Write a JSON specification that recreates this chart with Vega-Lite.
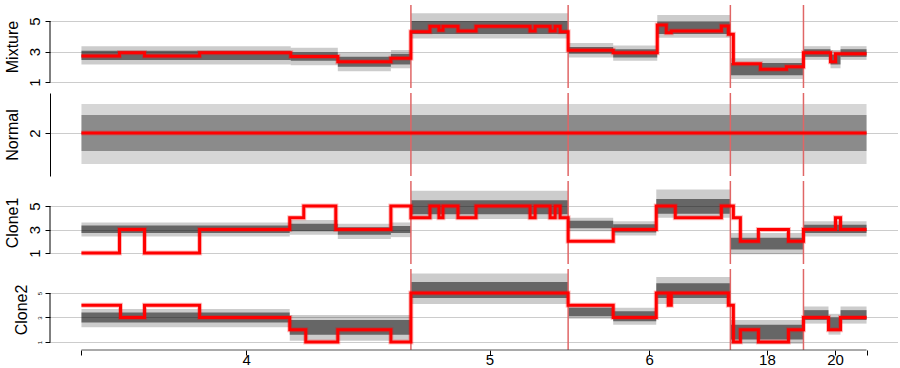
{
  "$schema": "https://vega.github.io/schema/vega-lite/v6.json",
  "background": "white",
  "padding": {"left": 4, "top": 4, "right": 0, "bottom": 0},
  "spacing": 5,
  "bounds": "flush",
  "datasets": {
    "bands": [
      {"p": "Mixture", "a": 0, "b": 209, "lo": 2.15, "hi": 3.35, "ilo": 2.45, "ihi": 3.05},
      {"p": "Mixture", "a": 209, "b": 256, "lo": 2.1, "hi": 3.25, "ilo": 2.4, "ihi": 2.95},
      {"p": "Mixture", "a": 256, "b": 309, "lo": 1.7, "hi": 2.95, "ilo": 2.0, "ihi": 2.65},
      {"p": "Mixture", "a": 309, "b": 329, "lo": 1.9, "hi": 3.1, "ilo": 2.15, "ihi": 2.85},
      {"p": "Mixture", "a": 329, "b": 486, "lo": 3.85, "hi": 5.5, "ilo": 4.15, "ihi": 5.0},
      {"p": "Mixture", "a": 486, "b": 531, "lo": 2.6, "hi": 3.55, "ilo": 2.85, "ihi": 3.3},
      {"p": "Mixture", "a": 531, "b": 575, "lo": 2.4, "hi": 3.4, "ilo": 2.6, "ihi": 3.15},
      {"p": "Mixture", "a": 575, "b": 648, "lo": 3.9, "hi": 5.4, "ilo": 4.15, "ihi": 4.95},
      {"p": "Mixture", "a": 648, "b": 721, "lo": 1.2, "hi": 2.55, "ilo": 1.45, "ihi": 2.25},
      {"p": "Mixture", "a": 721, "b": 748, "lo": 2.45, "hi": 3.35, "ilo": 2.65, "ihi": 3.15},
      {"p": "Mixture", "a": 748, "b": 758, "lo": 1.9, "hi": 3.1, "ilo": 2.15, "ihi": 2.8},
      {"p": "Mixture", "a": 758, "b": 784, "lo": 2.45, "hi": 3.35, "ilo": 2.65, "ihi": 3.15},
      {"p": "Normal", "a": 0, "b": 784, "lo": 0.97, "hi": 2.97, "ilo": 1.4, "ihi": 2.6},
      {"p": "Clone1", "a": 0, "b": 208, "lo": 2.4, "hi": 3.6, "ilo": 2.7, "ihi": 3.35},
      {"p": "Clone1", "a": 208, "b": 256, "lo": 2.55, "hi": 3.8, "ilo": 2.85, "ihi": 3.5},
      {"p": "Clone1", "a": 256, "b": 309, "lo": 2.2, "hi": 3.5, "ilo": 2.55, "ihi": 3.2},
      {"p": "Clone1", "a": 309, "b": 329, "lo": 2.35, "hi": 3.6, "ilo": 2.7, "ihi": 3.3},
      {"p": "Clone1", "a": 329, "b": 486, "lo": 3.9, "hi": 6.3, "ilo": 4.3, "ihi": 5.5},
      {"p": "Clone1", "a": 486, "b": 531, "lo": 2.85, "hi": 4.0, "ilo": 3.1, "ihi": 3.75},
      {"p": "Clone1", "a": 531, "b": 574, "lo": 2.5, "hi": 3.7, "ilo": 2.75, "ihi": 3.45},
      {"p": "Clone1", "a": 574, "b": 648, "lo": 4.0, "hi": 6.4, "ilo": 4.35, "ihi": 5.6},
      {"p": "Clone1", "a": 648, "b": 721, "lo": 0.9, "hi": 2.7, "ilo": 1.3, "ihi": 2.3},
      {"p": "Clone1", "a": 721, "b": 784, "lo": 2.4, "hi": 3.7, "ilo": 2.7, "ihi": 3.4},
      {"p": "Clone2", "a": 0, "b": 208, "lo": 2.2, "hi": 3.7, "ilo": 2.6, "ihi": 3.4},
      {"p": "Clone2", "a": 208, "b": 329, "lo": 1.1, "hi": 3.2, "ilo": 1.6, "ihi": 2.8},
      {"p": "Clone2", "a": 329, "b": 486, "lo": 4.1, "hi": 6.6, "ilo": 4.6, "ihi": 5.9},
      {"p": "Clone2", "a": 486, "b": 531, "lo": 2.9, "hi": 4.1, "ilo": 3.1, "ihi": 3.8},
      {"p": "Clone2", "a": 531, "b": 574, "lo": 2.4, "hi": 3.8, "ilo": 2.7, "ihi": 3.5},
      {"p": "Clone2", "a": 574, "b": 648, "lo": 4.1, "hi": 6.3, "ilo": 4.6, "ihi": 5.8},
      {"p": "Clone2", "a": 648, "b": 721, "lo": 0.85, "hi": 2.8, "ilo": 1.2, "ihi": 2.4},
      {"p": "Clone2", "a": 721, "b": 746, "lo": 2.5, "hi": 3.9, "ilo": 2.8, "ihi": 3.6},
      {"p": "Clone2", "a": 746, "b": 758, "lo": 1.6, "hi": 3.3, "ilo": 2.0, "ihi": 3.0},
      {"p": "Clone2", "a": 758, "b": 784, "lo": 2.5, "hi": 3.9, "ilo": 2.8, "ihi": 3.6}
    ],
    "steps": [
      {"p": "Mixture", "x": 0, "v": 2.70}, {"p": "Mixture", "x": 38, "v": 2.92}, {"p": "Mixture", "x": 63, "v": 2.70},
      {"p": "Mixture", "x": 118, "v": 2.92}, {"p": "Mixture", "x": 209, "v": 2.68}, {"p": "Mixture", "x": 256, "v": 2.33},
      {"p": "Mixture", "x": 309, "v": 2.55}, {"p": "Mixture", "x": 329, "v": 4.30}, {"p": "Mixture", "x": 348, "v": 4.65},
      {"p": "Mixture", "x": 357, "v": 4.40}, {"p": "Mixture", "x": 361, "v": 4.65}, {"p": "Mixture", "x": 376, "v": 4.35},
      {"p": "Mixture", "x": 394, "v": 4.65}, {"p": "Mixture", "x": 448, "v": 4.35}, {"p": "Mixture", "x": 453, "v": 4.65},
      {"p": "Mixture", "x": 468, "v": 4.35}, {"p": "Mixture", "x": 473, "v": 4.65}, {"p": "Mixture", "x": 478, "v": 4.30},
      {"p": "Mixture", "x": 486, "v": 3.08}, {"p": "Mixture", "x": 531, "v": 2.92}, {"p": "Mixture", "x": 575, "v": 4.74},
      {"p": "Mixture", "x": 584, "v": 4.23}, {"p": "Mixture", "x": 589, "v": 4.34}, {"p": "Mixture", "x": 639, "v": 4.67},
      {"p": "Mixture", "x": 646, "v": 4.13}, {"p": "Mixture", "x": 651, "v": 2.20}, {"p": "Mixture", "x": 678, "v": 1.83},
      {"p": "Mixture", "x": 704, "v": 2.00}, {"p": "Mixture", "x": 721, "v": 2.92}, {"p": "Mixture", "x": 748, "v": 2.33},
      {"p": "Mixture", "x": 753, "v": 2.86}, {"p": "Mixture", "x": 784, "v": 2.86},
      {"p": "Normal", "x": 0, "v": 2}, {"p": "Normal", "x": 784, "v": 2},
      {"p": "Clone1", "x": 0, "v": 1}, {"p": "Clone1", "x": 38, "v": 3}, {"p": "Clone1", "x": 63, "v": 1},
      {"p": "Clone1", "x": 118, "v": 3}, {"p": "Clone1", "x": 208, "v": 4}, {"p": "Clone1", "x": 222, "v": 5},
      {"p": "Clone1", "x": 254, "v": 3}, {"p": "Clone1", "x": 309, "v": 5}, {"p": "Clone1", "x": 329, "v": 4},
      {"p": "Clone1", "x": 348, "v": 5}, {"p": "Clone1", "x": 357, "v": 4}, {"p": "Clone1", "x": 361, "v": 5},
      {"p": "Clone1", "x": 376, "v": 4}, {"p": "Clone1", "x": 394, "v": 5}, {"p": "Clone1", "x": 448, "v": 4},
      {"p": "Clone1", "x": 453, "v": 5}, {"p": "Clone1", "x": 468, "v": 4}, {"p": "Clone1", "x": 473, "v": 5},
      {"p": "Clone1", "x": 478, "v": 4}, {"p": "Clone1", "x": 486, "v": 2}, {"p": "Clone1", "x": 531, "v": 3},
      {"p": "Clone1", "x": 574, "v": 5}, {"p": "Clone1", "x": 593, "v": 4}, {"p": "Clone1", "x": 639, "v": 5},
      {"p": "Clone1", "x": 651, "v": 4}, {"p": "Clone1", "x": 658, "v": 2}, {"p": "Clone1", "x": 676, "v": 3},
      {"p": "Clone1", "x": 706, "v": 2}, {"p": "Clone1", "x": 721, "v": 3}, {"p": "Clone1", "x": 753, "v": 4},
      {"p": "Clone1", "x": 758, "v": 3}, {"p": "Clone1", "x": 784, "v": 3},
      {"p": "Clone2", "x": 0, "v": 4}, {"p": "Clone2", "x": 39, "v": 3}, {"p": "Clone2", "x": 63, "v": 4},
      {"p": "Clone2", "x": 118, "v": 3}, {"p": "Clone2", "x": 208, "v": 2}, {"p": "Clone2", "x": 224, "v": 1},
      {"p": "Clone2", "x": 256, "v": 2}, {"p": "Clone2", "x": 309, "v": 1}, {"p": "Clone2", "x": 329, "v": 5},
      {"p": "Clone2", "x": 486, "v": 4}, {"p": "Clone2", "x": 531, "v": 3}, {"p": "Clone2", "x": 574, "v": 5},
      {"p": "Clone2", "x": 586, "v": 4}, {"p": "Clone2", "x": 589, "v": 5}, {"p": "Clone2", "x": 646, "v": 4},
      {"p": "Clone2", "x": 651, "v": 1}, {"p": "Clone2", "x": 658, "v": 2}, {"p": "Clone2", "x": 676, "v": 1},
      {"p": "Clone2", "x": 706, "v": 2}, {"p": "Clone2", "x": 721, "v": 3}, {"p": "Clone2", "x": 746, "v": 2},
      {"p": "Clone2", "x": 758, "v": 3}, {"p": "Clone2", "x": 784, "v": 3}
    ],
    "bounds": [{"b": 329}, {"b": 486}, {"b": 648}, {"b": 721}]
  },
  "config": {
    "font": "Liberation Sans",
    "view": {"stroke": null},
    "axis": {
      "labelFont": "Liberation Sans", "titleFont": "Liberation Sans",
      "labelColor": "black", "titleColor": "black", "tickColor": "black", "domainColor": "black",
      "titleFontWeight": "normal", "labelFontSize": 15, "titleFontSize": 16,
      "gridColor": "#cccccc", "gridWidth": 1.2, "tickSize": 5
    },
    "axisY": {"labelAngle": 270, "labelAlign": "center", "labelBaseline": "bottom", "labelPadding": 3, "titlePadding": 7}
  },
  "vconcat": [
    {
      "width": 848, "height": 83,
      "layer": [
        {"data": {"name": "bands"}, "transform": [{"filter": "datum.p == 'Mixture'"}],
         "mark": {"type": "rect", "color": "black", "opacity": 0.2},
         "encoding": {
           "x": {"field": "a", "type": "quantitative", "scale": {"domain": [-31.4, 815.4], "nice": false, "zero": false}, "axis": null},
           "x2": {"field": "b"},
           "y": {"field": "lo", "type": "quantitative", "scale": {"domain": [0.607, 6.049], "nice": false, "zero": false},
                 "axis": {"title": "Mixture", "values": [1, 2, 3, 4, 5], "labelExpr": "datum.value == 2 || datum.value == 4 ? '' : datum.label", "domain": false, "grid": true}},
           "y2": {"field": "hi"}}},
        {"data": {"name": "bands"}, "transform": [{"filter": "datum.p == 'Mixture'"}],
         "mark": {"type": "rect", "color": "black", "opacity": 0.5},
         "encoding": {"x": {"field": "a", "type": "quantitative"}, "x2": {"field": "b"}, "y": {"field": "ilo", "type": "quantitative"}, "y2": {"field": "ihi"}}},
        {"data": {"name": "bounds"}, "mark": {"type": "rule", "color": "#e06666", "strokeWidth": 1.5},
         "encoding": {"x": {"field": "b", "type": "quantitative"}}},
        {"data": {"name": "steps"}, "transform": [{"filter": "datum.p == 'Mixture'"}],
         "mark": {"type": "line", "interpolate": "step-after", "color": "#ff0000", "strokeWidth": 5, "opacity": 0.25},
         "encoding": {"x": {"field": "x", "type": "quantitative"}, "y": {"field": "v", "type": "quantitative"}}},
        {"data": {"name": "steps"}, "transform": [{"filter": "datum.p == 'Mixture'"}],
         "mark": {"type": "line", "interpolate": "step-after", "color": "#ff0000", "strokeWidth": 3},
         "encoding": {"x": {"field": "x", "type": "quantitative"}, "y": {"field": "v", "type": "quantitative"}}},
        {"data": {"values": [{}]}, "mark": {"type": "rule", "color": "black"},
         "encoding": {"x": {"datum": -31.4}, "y": {"datum": 1}, "y2": {"datum": 5}}}
      ]
    },
    {
      "width": 848, "height": 83,
      "layer": [
        {"data": {"name": "bands"}, "transform": [{"filter": "datum.p == 'Normal'"}],
         "mark": {"type": "rect", "color": "black", "opacity": 0.16},
         "encoding": {
           "x": {"field": "a", "type": "quantitative", "scale": {"domain": [-31.4, 815.4], "nice": false, "zero": false}, "axis": null},
           "x2": {"field": "b"},
           "y": {"field": "lo", "type": "quantitative", "scale": {"domain": [0.567, 3.333], "nice": false, "zero": false},
                 "axis": {"title": "Normal", "values": [2], "domain": true, "grid": true}},
           "y2": {"field": "hi"}}},
        {"data": {"name": "bands"}, "transform": [{"filter": "datum.p == 'Normal'"}],
         "mark": {"type": "rect", "color": "black", "opacity": 0.35},
         "encoding": {"x": {"field": "a", "type": "quantitative"}, "x2": {"field": "b"}, "y": {"field": "ilo", "type": "quantitative"}, "y2": {"field": "ihi"}}},
        {"data": {"name": "bounds"}, "mark": {"type": "rule", "color": "#e06666", "strokeWidth": 1.5},
         "encoding": {"x": {"field": "b", "type": "quantitative"}}},
        {"data": {"name": "steps"}, "transform": [{"filter": "datum.p == 'Normal'"}],
         "mark": {"type": "line", "interpolate": "step-after", "color": "#ff0000", "strokeWidth": 5, "opacity": 0.25},
         "encoding": {"x": {"field": "x", "type": "quantitative"}, "y": {"field": "v", "type": "quantitative"}}},
        {"data": {"name": "steps"}, "transform": [{"filter": "datum.p == 'Normal'"}],
         "mark": {"type": "line", "interpolate": "step-after", "color": "#ff0000", "strokeWidth": 3},
         "encoding": {"x": {"field": "x", "type": "quantitative"}, "y": {"field": "v", "type": "quantitative"}}}
      ]
    },
    {
      "width": 848, "height": 83,
      "layer": [
        {"data": {"name": "bands"}, "transform": [{"filter": "datum.p == 'Clone1'"}],
         "mark": {"type": "rect", "color": "black", "opacity": 0.2},
         "encoding": {
           "x": {"field": "a", "type": "quantitative", "scale": {"domain": [-31.4, 815.4], "nice": false, "zero": false}, "axis": null},
           "x2": {"field": "b"},
           "y": {"field": "lo", "type": "quantitative", "scale": {"domain": [0.064, 7.128], "nice": false, "zero": false},
                 "axis": {"title": "Clone1", "values": [1, 2, 3, 4, 5], "labelExpr": "datum.value == 2 || datum.value == 4 ? '' : datum.label", "domain": false, "grid": true}},
           "y2": {"field": "hi"}}},
        {"data": {"name": "bands"}, "transform": [{"filter": "datum.p == 'Clone1'"}],
         "mark": {"type": "rect", "color": "black", "opacity": 0.5},
         "encoding": {"x": {"field": "a", "type": "quantitative"}, "x2": {"field": "b"}, "y": {"field": "ilo", "type": "quantitative"}, "y2": {"field": "ihi"}}},
        {"data": {"name": "bounds"}, "mark": {"type": "rule", "color": "#e06666", "strokeWidth": 1.5},
         "encoding": {"x": {"field": "b", "type": "quantitative"}}},
        {"data": {"name": "steps"}, "transform": [{"filter": "datum.p == 'Clone1'"}],
         "mark": {"type": "line", "interpolate": "step-after", "color": "#ff0000", "strokeWidth": 5, "opacity": 0.25},
         "encoding": {"x": {"field": "x", "type": "quantitative"}, "y": {"field": "v", "type": "quantitative"}}},
        {"data": {"name": "steps"}, "transform": [{"filter": "datum.p == 'Clone1'"}],
         "mark": {"type": "line", "interpolate": "step-after", "color": "#ff0000", "strokeWidth": 3},
         "encoding": {"x": {"field": "x", "type": "quantitative"}, "y": {"field": "v", "type": "quantitative"}}},
        {"data": {"values": [{}]}, "mark": {"type": "rule", "color": "black"},
         "encoding": {"x": {"datum": -31.4}, "y": {"datum": 1}, "y2": {"datum": 5}}}
      ]
    },
    {
      "width": 848, "height": 81,
      "layer": [
        {"data": {"name": "bands"}, "transform": [{"filter": "datum.p == 'Clone2'"}],
         "mark": {"type": "rect", "color": "black", "opacity": 0.2},
         "encoding": {
           "x": {"field": "a", "type": "quantitative", "scale": {"domain": [-31.4, 815.4], "nice": false, "zero": false},
                 "axis": {"title": null, "values": [0, 164.5, 407.5, 567, 684.5, 752.5, 784], "domain": false, "grid": false, "labelPadding": -3,
                          "labelExpr": "datum.value == 164.5 ? '4' : datum.value == 407.5 ? '5' : datum.value == 567 ? '6' : datum.value == 684.5 ? '18' : datum.value == 752.5 ? '20' : ''"}},
           "x2": {"field": "b"},
           "y": {"field": "lo", "type": "quantitative", "scale": {"domain": [0.347, 6.959], "nice": false, "zero": false},
                 "axis": {"title": "Clone2", "values": [1, 2, 3, 4, 5], "labelFontSize": 6, "domain": false, "grid": true}},
           "y2": {"field": "hi"}}},
        {"data": {"name": "bands"}, "transform": [{"filter": "datum.p == 'Clone2'"}],
         "mark": {"type": "rect", "color": "black", "opacity": 0.5},
         "encoding": {"x": {"field": "a", "type": "quantitative"}, "x2": {"field": "b"}, "y": {"field": "ilo", "type": "quantitative"}, "y2": {"field": "ihi"}}},
        {"data": {"name": "bounds"}, "mark": {"type": "rule", "color": "#e06666", "strokeWidth": 1.5},
         "encoding": {"x": {"field": "b", "type": "quantitative"}}},
        {"data": {"name": "steps"}, "transform": [{"filter": "datum.p == 'Clone2'"}],
         "mark": {"type": "line", "interpolate": "step-after", "color": "#ff0000", "strokeWidth": 5, "opacity": 0.25},
         "encoding": {"x": {"field": "x", "type": "quantitative"}, "y": {"field": "v", "type": "quantitative"}}},
        {"data": {"name": "steps"}, "transform": [{"filter": "datum.p == 'Clone2'"}],
         "mark": {"type": "line", "interpolate": "step-after", "color": "#ff0000", "strokeWidth": 3},
         "encoding": {"x": {"field": "x", "type": "quantitative"}, "y": {"field": "v", "type": "quantitative"}}},
        {"data": {"values": [{}]}, "mark": {"type": "rule", "color": "black"},
         "encoding": {"x": {"datum": -31.4}, "y": {"datum": 1}, "y2": {"datum": 5}}},
        {"data": {"values": [{}]}, "mark": {"type": "rule", "color": "#555555"},
         "encoding": {"x": {"datum": 0}, "x2": {"datum": 784}, "y": {"datum": 0.347}}}
      ]
    }
  ]
}
